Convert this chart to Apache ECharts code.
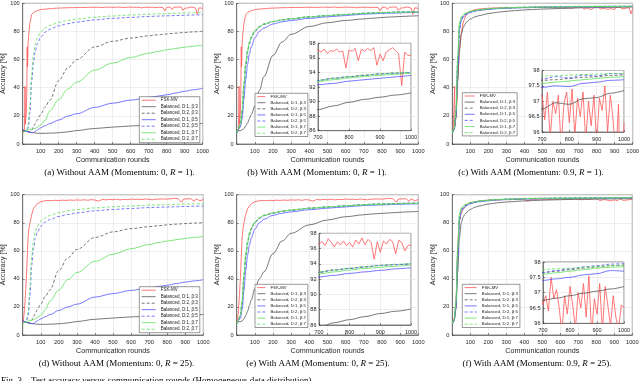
<!DOCTYPE html>
<html><head><meta charset="utf-8">
<script src="https://cdn.jsdelivr.net/npm/echarts@6/dist/echarts.min.js"></script>
<style>html,body{margin:0;padding:0;background:#fff}#c{width:640px;height:381px}</style>
</head><body><div id="c"></div><script>
// ---------- DATA ----------
const seriesNames = ['FSK-MV','Balanced, D:1, β:3','Balanced, D:2, β:3','Balanced, D:1, β:5','Balanced, D:2, β:5','Balanced, D:1, β:7','Balanced, D:2, β:7'];
const xTicks = [100,200,300,400,500,600,700,800,900,1000];
const roundsX = [1,10,20,30,40,50,60,70,80,100,125,150,200,250,300,400,500,600,700,750,800,850,900,950,1000];
const redX = [1,5,10,13,15,17,20,23,25,27,30,35,40,50,60,70,80,90,100,
  120,140,160,180,200,220,240,260,280,300,320,340,360,380,400,420,440,460,480,500,520,540,560,580,600,620,640,660,680,
  700,710,720,730,740,750,760,770,780,790,800,810,820,830,840,850,860,870,880,890,900,910,920,930,940,950,960,970,980,990,1000];

// FSK-MV (momentum 0, R=1) -> panels a, b
const redR1 = [8,9,10,41,14,18,22,40,69,55,72,80,86,92,93.5,94.2,94.8,95.2,95.5,
  95.8,96.1,96.2,96.5,96.6,96.7,96.8,96.9,96.9,97.0,97.1,97.0,97.1,97.2,97.1,97.2,97.0,97.2,97.3,97.1,97.2,97.3,97.0,97.2,97.3,97.1,97.2,96.8,97.2,
  97.1,96.8,97.2,96.6,97.0,96.9,97.2,96.8,96.9,94.6,97.1,96.9,97.3,95.6,97.2,96.9,97.3,97.0,97.4,95.0,96.5,95.6,96.8,97.1,97.4,97.0,96.6,92.2,96.8,96.3,96.4];
// FSK-MV (momentum 0.9, R=1) -> panel c
const redR1m = [8,10,11,41,13,16,20,25,30,36,45,57,66,79,86,90,92,93.5,94.5,
  95.3,95.8,96.1,96.3,96.5,96.6,96.7,96.8,96.9,97.0,96.9,97.0,97.1,97.0,97.1,96.8,97.1,97.2,97.0,97.1,96.9,97.2,96.8,97.1,97.2,96.9,97.0,96.6,97.1,
  97.2,96.4,97.3,95.8,97.0,96.6,97.2,95.5,96.9,97.3,96.3,97.4,95.9,97.1,96.5,97.3,95.7,97.0,96.2,97.2,95.6,97.1,96.7,97.5,96.0,97.2,96.4,95.2,96.9,92.5,96.3];
// FSK-MV (momentum 0, R=25) -> panels d, e
const redR25 = [9,12,18,24,28,33,40,48,55,62,70,76,80,86,90,92,93.5,94.5,95,
  95.6,95.9,95.7,96.0,95.8,96.1,95.9,96.2,96.0,96.3,96.1,96.4,96.0,96.5,96.2,95.4,96.6,96.3,96.7,96.4,96.8,96.3,96.7,96.5,96.9,96.6,96.8,96.5,97.0,
  96.6,96.9,96.4,97.3,96.8,96.2,96.9,96.5,97.0,96.4,96.8,96.2,97.1,96.6,97.4,96.5,97.2,96.8,94.6,96.9,95.5,97.0,96.6,97.2,96.9,95.3,97.1,96.8,95.7,96.4,96.5];
// FSK-MV (momentum 0.9, R=25) -> panel f
const redR25m = [8,10,12,14,16,19,24,32,40,50,62,75,82,87,89.5,91,92.5,93.5,94.2,
  94.8,95.3,95.6,95.9,96.1,96.2,96.4,96.3,96.5,96.6,96.4,96.7,96.5,96.8,96.6,95.3,96.8,96.6,97.0,96.7,96.9,96.5,97.0,96.6,97.1,96.8,97.1,96.7,97.2,
  96.6,96.9,96.4,97.5,96.8,97.1,96.5,95.7,96.9,96.3,97.2,96.6,95.8,97.0,96.5,97.3,96.2,97.55,95.6,96.8,96.3,97.3,95.7,97.2,96.6,95.9,96.9,96.2,95.8,96.6,96.5];

// Panel (a)/(d): without AAM
const a_g1  = [10,9.5,9,8.8,8.5,8.2,8,7.8,7.7,7.6,7.6,7.7,8.0,8.6,9.6,11.0,12.0,12.8,13.3,13.5,13.8,14.0,14.2,14.4,14.6];
const a_g2  = [10,9.5,9,8.7,8.5,10,12.5,14.5,17,21,26.5,31,45,54,60,69,73,75.3,76.9,77.6,78.2,78.8,79.3,79.7,80];
const a_b1  = [10,9.5,9,8.6,8.3,8,8.2,9,10,11.5,13,14.5,17,19.8,21.5,26,29,31.2,33,34,35,36.2,37.5,38.6,39.6];
const a_b2  = [10,9.5,9.5,11,22,45,58,66,71,76,79.5,81.5,84,85.5,86.7,88.2,89.3,90,90.6,90.9,91.1,91.3,91.5,91.7,91.9];
const a_gr1 = [8,9,9.5,10,10.5,10.5,11,11,12,13.5,17,23.5,31.5,39,44,52.5,57.5,61.5,64.5,65.8,66.9,67.9,68.8,69.6,70.3];
const a_gr2 = [8,9,10,13,28,50,64,71,75,79.5,82.5,84.3,86.5,87.8,88.8,90.1,91,91.7,92.2,92.5,92.7,92.9,93.1,93.3,93.5];
const d_g1  = [10,9.5,9,8.8,8.5,8.2,8,7.8,7.7,7.6,7.6,7.7,8.0,8.6,9.6,11.2,12.1,12.9,13.4,13.6,13.9,14.1,14.3,14.5,14.6];
const d_g2  = [10,9.5,9,8.7,8.5,10.5,13,15.5,18,22,27.5,32,46,55,61,69.5,73.5,75.8,77.2,77.9,78.5,79,79.4,79.8,80];
const d_b1  = [10,9.5,9,8.6,8.3,8,8.2,9,10,11.5,13,14.5,17.5,20,22,27,29.5,31.8,33.5,34.5,35.5,36.6,37.7,38.6,39.4];
const d_b2  = [10,9.5,10,13,28,50,62,69,73,77.5,80.5,82.3,84.5,85.9,87,88.5,89.5,90.2,90.8,91.0,91.2,91.4,91.6,91.8,92];
const d_gr1 = [8,9,9.5,10,10.5,10.5,11,11.5,12.5,14,18,24,32,39.5,44.5,52.5,57.5,61.5,64.5,65.8,66.9,67.9,68.8,69.6,70.2];
const d_gr2 = [8,9,11,16,34,56,68,74,77.5,81,83.5,85.2,87.2,88.5,89.4,90.6,91.4,92,92.5,92.7,92.9,93.1,93.3,93.5,93.6];

// Panel (b): with AAM, momentum 0, R=1
const b_g1  = [10,9.5,9.5,10,11,13,15,18,21,27,38,48,63,72.5,78,83.5,86.2,87.8,88.9,89.4,89.9,90.3,90.6,90.9,91.2];
const b_g2  = [8,11,14,24,42,57,66,72,75.8,80.3,83.4,85.2,87,88.2,89,90.4,91.3,92.1,92.9,93.2,93.4,93.6,93.8,93.9,94.0];
const b_b1  = [8,10.5,12,18,32,46,57,64,69,75.5,80,82.5,85.3,86.8,87.8,89.3,90.4,91.3,92.3,92.5,92.8,93,93.2,93.4,93.6];
const b_b2  = [8,11,13.5,22,40,55,65,71,75.2,80,83.2,85,86.9,88.1,88.9,90.3,91.2,92,92.9,93.2,93.4,93.6,93.8,93.9,94.0];
const b_gr1 = [8,11,14,24,42,57,66,72,76,80.5,83.5,85.2,87,88.2,89,90.3,91.2,92,92.75,93,93.25,93.45,93.6,93.75,93.9];
const b_gr2 = [8,11.5,14.5,25,44,58,67,72.5,76.3,80.6,83.6,85.4,87.1,88.3,89.1,90.4,91.3,92.1,92.95,93.2,93.45,93.65,93.8,93.95,94.05];

// Panel (e): with AAM, momentum 0, R=25
const e_g1  = [10,9.5,9.5,10,11.5,14,17,21,25,33,40,45,58,67,72.5,78.5,82,84.3,85.7,86.3,86.7,87.1,87.5,87.8,88.1];
const e_g2  = [8,11,14,24,42,57,66,72,75.8,80.3,83.4,85.2,87,88.2,89,90.4,91.3,92.1,92.9,93.2,93.4,93.6,93.8,93.9,94.0];
const e_b1  = [8,10.5,12,18,32,46,57,64,69,75.5,80,82.5,85.3,86.8,87.8,89.3,90.4,91.3,92.3,92.5,92.75,92.95,93.15,93.35,93.5];
const e_b2  = [8,11,13.5,22,40,55,65,71,75.2,80,83.2,85,86.9,88.1,88.9,90.3,91.2,92,92.9,93.2,93.4,93.6,93.8,93.9,94.0];
const e_gr1 = [8,11,14,24,42,57,66,72,76,80.5,83.5,85.2,87,88.2,89,90.3,91.2,92,92.7,92.95,93.2,93.4,93.55,93.7,93.85];
const e_gr2 = [8,11.5,14.5,25,44,58,67,72.5,76.3,80.6,83.6,85.4,87.1,88.3,89.1,90.4,91.3,92.1,92.95,93.2,93.45,93.65,93.8,93.95,94.05];

// Panel (c): with AAM, momentum 0.9, R=1
const c_g1  = [8,10,18,45,68,78,82.5,85,86.8,88.8,90.3,91.3,92.7,93.6,94.3,95.3,95.9,96.3,96.75,96.95,96.9,97.08,97.12,97.26,97.35];
const c_g2  = [8,10,20,55,82,88.5,90.5,91.8,92.7,93.8,94.6,95.1,95.8,96.3,96.6,97.0,97.3,97.5,97.68,97.7,97.74,97.78,97.8,97.84,97.86];
const c_b1  = [8,10,20,55,82,88,90,91.3,92.3,93.5,94.4,95,95.7,96.2,96.5,96.9,97.15,97.3,97.45,97.5,97.48,97.58,97.62,97.68,97.7];
const c_b2  = [8,10.5,21,57,84,89,91,92.2,93,94,94.8,95.3,96,96.5,96.8,97.2,97.45,97.6,97.72,97.8,97.76,97.85,97.82,97.9,97.88];
const c_gr1 = [8,11,23,62,86,90,91.5,92.5,93.2,94.1,94.8,95.3,96,96.4,96.7,97.1,97.3,97.45,97.58,97.62,97.66,97.7,97.74,97.78,97.8];
const c_gr2 = [8,11,23,62,86,90.5,92,93,93.6,94.4,95.1,95.6,96.2,96.6,96.9,97.3,97.55,97.7,97.82,97.83,97.85,97.87,97.88,97.9,97.9];

// Panel (f): with AAM, momentum 0.9, R=25
const f_g1  = [8,10,18,45,70,80,84,86,87.5,89.5,91,92,93.3,94.2,94.8,95.6,96.1,96.45,96.75,96.82,96.9,96.98,97.05,97.12,97.2];
const f_g2  = [8,10,20,55,82,89,91,92.2,93,94,94.8,95.3,96,96.5,96.8,97.2,97.4,97.55,97.66,97.7,97.75,97.8,97.84,97.88,97.9];
const f_b1  = [8,10,20,55,82,88,90,91.3,92.3,93.5,94.4,95,95.7,96.2,96.5,96.9,97.1,97.25,97.4,97.45,97.5,97.58,97.62,97.72,97.7];
const f_b2  = [8,10.5,21,57,84,89,91,92.2,93,94,94.8,95.3,96,96.5,96.8,97.2,97.4,97.55,97.65,97.72,97.78,97.84,97.88,97.93,97.95];
const f_gr1 = [8,11,23,62,86,90,91.5,92.5,93.2,94.1,94.8,95.3,96,96.4,96.7,97.1,97.3,97.45,97.6,97.65,97.7,97.75,97.8,97.83,97.85];
const f_gr2 = [8,11,23,62,86,90.5,92,93,93.6,94.4,95.1,95.6,96.2,96.6,96.9,97.3,97.5,97.65,97.75,97.78,97.8,97.83,97.86,97.88,97.9];

// ---------- STYLE / LAYOUT ----------
const FONT = '"Liberation Sans", Arial, sans-serif';
const SERIF = '"Liberation Serif", "Times New Roman", serif';
const AXC = '#3a3a3a', TXT = '#262626', GRIDC = '#e2e2e2';
const COLORS = ['#ff5555','#555555','#555555','#5555ff','#5555ff','#5ee05e','#5ee05e'];
const DASH = [false,false,true,false,true,false,true];

const panels = [
  {grid:{left:22.7, top:3.3, width:180, height:140.7}, leg:{left:139.3, top:96.7, iw:14, fs:4.5}, inset:null,
   cap:{x:119.5, y:172.3, pre:'(a) Without AAM (Momentum: 0, ', post:' = 1).'}, red:redR1, lines:[a_g1,a_g2,a_b1,a_b2,a_gr1,a_gr2]},
  {grid:{left:236.7, top:3.3, width:181.6, height:140.7}, leg:{left:255, top:93.3, iw:8, fs:4.3},
   inset:{left:318, top:43.3, width:93, height:87.4, min:86, max:98, interval:2},
   cap:{x:317, y:172.3, pre:'(b) With AAM (Momentum: 0, ', post:' = 1).'}, red:redR1, lines:[b_g1,b_g2,b_b1,b_b2,b_gr1,b_gr2]},
  {grid:{left:452.3, top:3.3, width:180.4, height:140.7}, leg:{left:462.3, top:92.7, iw:10, fs:4.3},
   inset:{left:542, top:70.5, width:82, height:61.5, min:96, max:98, interval:0.5},
   cap:{x:531, y:172.3, pre:'(c) With AAM (Momentum: 0.9, ', post:' = 1).'}, red:redR1m, lines:[c_g1,c_g2,c_b1,c_b2,c_gr1,c_gr2]},
  {grid:{left:22.7, top:194.7, width:180.6, height:140.3}, leg:{left:139.3, top:286.7, iw:14, fs:4.5}, inset:null,
   cap:{x:116.5, y:363.7, pre:'(d) Without AAM (Momentum: 0, ', post:' = 25).'}, red:redR25, lines:[d_g1,d_g2,d_b1,d_b2,d_gr1,d_gr2]},
  {grid:{left:236.7, top:194.7, width:181.6, height:140.3}, leg:{left:255, top:284.3, iw:8, fs:4.3},
   inset:{left:319, top:233.3, width:92, height:91.7, min:86, max:98, interval:2},
   cap:{x:318, y:363.7, pre:'(e) With AAM (Momentum: 0, ', post:' = 25).'}, red:redR25, lines:[e_g1,e_g2,e_b1,e_b2,e_gr1,e_gr2]},
  {grid:{left:452.3, top:194.7, width:180, height:140.3}, leg:{left:462.3, top:284.3, iw:12, fs:4.4},
   inset:{left:543, top:262, width:81, height:61.3, min:96, max:98, interval:0.5},
   cap:{x:537, y:363.7, pre:'(f) With AAM (Momentum: 0.9, ', post:' = 25).'}, red:redR25m, lines:[f_g1,f_g2,f_b1,f_b2,f_gr1,f_gr2]}
];

const option = {animation:false, backgroundColor:'#fff', grid:[], xAxis:[], yAxis:[], legend:[], series:[], graphic:[]};

function xAxisDef(gi, inset, z){
  const o = {gridIndex:gi, type:'value', min: inset?700:0, max:1000, interval:100, z:z,
    axisLine:{show:true, onZero:false, lineStyle:{color:AXC, width:0.6}},
    axisTick:{show:true, inside:true, length:2, lineStyle:{color:AXC, width:0.6}},
    axisLabel:{fontSize:inset?5.5:5.7, color:TXT, margin:4, fontFamily:FONT,
      formatter: v => (xTicks.indexOf(v) >= 0 || (inset && v === 700)) ? String(v) : ''},
    splitLine:{show:true, lineStyle:{color:GRIDC, width:0.6}}};
  if (!inset) Object.assign(o, {name:'Communication rounds', nameLocation:'middle', nameGap:13,
    nameTextStyle:{fontSize:7.2, color:TXT, fontFamily:FONT}});
  return o;
}
function yAxisDef(gi, inset, z){
  const o = {gridIndex:gi, type:'value', min: inset?inset.min:0, max: inset?inset.max:100, interval: inset?inset.interval:20, z:z,
    axisLine:{show:true, onZero:false, lineStyle:{color:AXC, width:0.6}},
    axisTick:{show:true, inside:true, length:2, lineStyle:{color:AXC, width:0.6}},
    axisLabel:{fontSize:5.6, color:TXT, margin: inset?2.5:3, fontFamily:FONT},
    splitLine:{show:true, lineStyle:{color:GRIDC, width:0.6}}};
  if (!inset) Object.assign(o, {name:'Accuracy [%]', nameLocation:'middle', nameGap:14,
    nameTextStyle:{fontSize:7, color:TXT, fontFamily:FONT}});
  return o;
}
function lineSeries(ci, xs, ys, ai, z){
  return {type:'line', name:seriesNames[ci], xAxisIndex:ai, yAxisIndex:ai,
    data: xs.map((x,i)=>[x, ys[i]]), symbol:'none', showSymbol:false,
    smooth: ci===0 ? false : 0.35, smoothMonotone:'x', clip:true, z:z, silent:true,
    lineStyle:{color:COLORS[ci], width:0.8, type: DASH[ci] ? [3,2] : 'solid'},
    itemStyle:{color:COLORS[ci]}, emphasis:{disabled:true}};
}
function addAll(ai, p, z){
  option.series.push(lineSeries(0, redX, p.red, ai, z));
  p.lines.forEach((ys, k) => option.series.push(lineSeries(k+1, roundsX, ys, ai, z)));
}

panels.forEach(p => {
  const gi = option.grid.length;
  option.grid.push(Object.assign({show:true, backgroundColor:'#fff', borderColor:AXC, borderWidth:0.6,
    containLabel:false, outerBoundsMode:'none', z:0}, p.grid));
  option.xAxis.push(xAxisDef(gi, null, 1));
  option.yAxis.push(yAxisDef(gi, null, 1));
  addAll(gi, p, 2);
  option.legend.push({show:true, data:seriesNames, orient:'vertical', left:p.leg.left, top:p.leg.top,
    itemWidth:p.leg.iw, itemHeight:4.6, itemGap:1.5, padding:[1,2,1,2], backgroundColor:'#fff',
    borderColor:'#333', borderWidth:0.5, selectedMode:false, z:4,
    itemStyle:{opacity:0, borderWidth:0}, lineStyle:{width:0.8},
    textStyle:{fontSize:p.leg.fs, lineHeight:4.6, color:'#222', fontFamily:FONT}});
  option.graphic.push({type:'text', x:p.cap.x, y:p.cap.y, silent:true, style:{
    text:'{n|' + p.cap.pre + '}{i|R}{n|' + p.cap.post + '}', align:'center', verticalAlign:'middle',
    rich:{n:{fontFamily:SERIF, fontSize:9, fill:'#000'}, i:{fontFamily:SERIF, fontSize:9, fontStyle:'italic', fill:'#000'}}}});
});
panels.forEach(p => {
  if (!p.inset) return;
  const gi = option.grid.length;
  option.grid.push({show:true, backgroundColor:'#fff', borderColor:AXC, borderWidth:0.6, containLabel:false,
    outerBoundsMode:'none', z:5, left:p.inset.left, top:p.inset.top, width:p.inset.width, height:p.inset.height});
  option.xAxis.push(xAxisDef(gi, true, 6));
  option.yAxis.push(yAxisDef(gi, p.inset, 6));
  addAll(gi, p, 7);
});
option.graphic.push({type:'text', x:1, y:376.5, silent:true, style:{
  text:'Fig. 3.   Test accuracy versus communication rounds (Homogeneous data distribution).',
  font:'9px ' + SERIF, fill:'#000', align:'left', verticalAlign:'top'}});

const chart = echarts.init(document.getElementById('c'), null, {renderer:'canvas', width:640, height:381});
chart.setOption(option);
</script></body></html>
